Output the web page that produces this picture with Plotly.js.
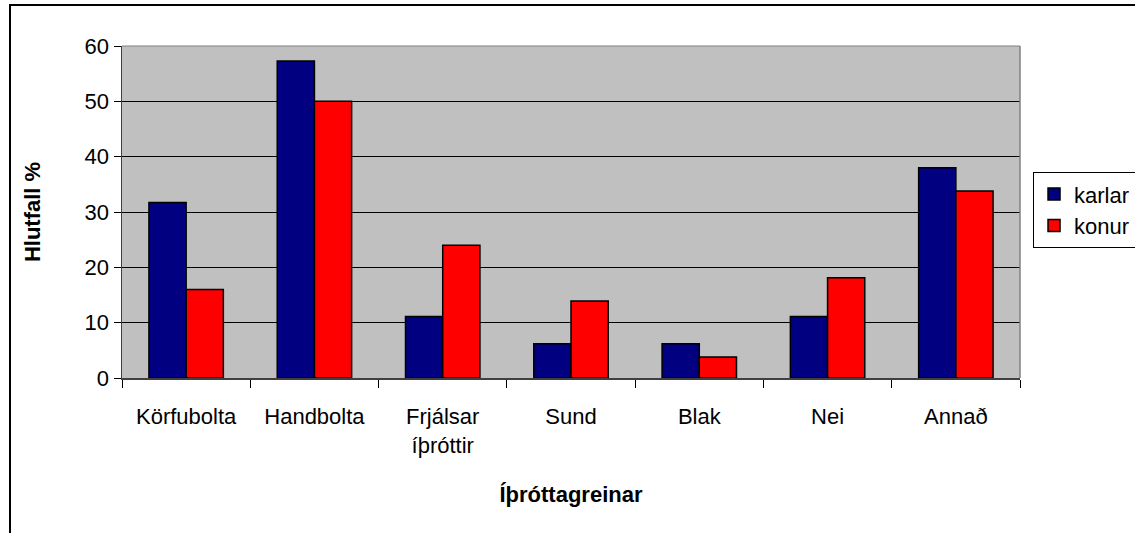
<!DOCTYPE html>
<html>
<head>
<meta charset="utf-8">
<script src="https://cdn.plot.ly/plotly-3.0.1.min.js"></script>
<style>html,body{margin:0;padding:0;background:#fff;}#chart{width:1135px;height:533px;}</style>
</head>
<body>
<div id="chart"></div>
<script>
const categories = ["Körfubolta", "Handbolta", "Frjálsar<br>íþróttir", "Sund", "Blak", "Nei", "Annað"];
const karlar = [31.7, 57.3, 11.1, 6.2, 6.2, 11.1, 38.0];
const konur = [16.0, 50.0, 24.0, 13.9, 3.8, 18.1, 33.8];
const yTicks = [0, 10, 20, 30, 40, 50, 60];

const font = "Liberation Sans, Arial, sans-serif";
const fs = 22;
const traces = [
  {type: "bar", name: "karlar", x: categories, y: karlar,
   marker: {color: "#000080", line: {color: "#000000", width: 1.5}}},
  {type: "bar", name: "konur", x: categories, y: konur,
   marker: {color: "#ff0000", line: {color: "#000000", width: 1.5}}}
];
const layout = {
  width: 1135, height: 533,
  margin: {l: 122, r: 115, t: 46, b: 155, autoexpand: false},
  paper_bgcolor: "#ffffff",
  plot_bgcolor: "#c0c0c0",
  barmode: "group",
  bargap: 0.42,
  bargroupgap: 0,
  font: {family: font, size: fs, color: "#000"},
  showlegend: true,
  legend: {x: 1.0145, y: 0.62, xanchor: "left", yanchor: "top",
    bordercolor: "#000", borderwidth: 1, bgcolor: "#fff",
    font: {family: font, size: fs, color: "#000"}, itemwidth: 30, tracegroupgap: 0},
  xaxis: {
    type: "category",
    tickson: "boundaries", ticks: "outside", ticklen: 8, tickcolor: "#000",
    showline: true, linecolor: "#404040", linewidth: 1.5, mirror: false,
    showgrid: false, ticklabelstandoff: 18,
    tickfont: {family: font, size: fs, color: "#000"},
    title: {text: "<b>Íþróttagreinar</b>", font: {family: font, size: fs, color: "#000"}, standoff: 30}
  },
  yaxis: {
    range: [0, 60], tickvals: yTicks, ticktext: yTicks.map(String),
    ticks: "outside", ticklen: 7, tickcolor: "#000",
    showline: true, linecolor: "#404040", linewidth: 1.5,
    showgrid: true, gridcolor: "#000", gridwidth: 1, zeroline: false,
    tickfont: {family: font, size: fs, color: "#000"},
    title: {text: "<b>Hlutfall %</b>", font: {family: font, size: fs, color: "#000"}, standoff: 38}
  },
  shapes: [
    {type: "line", xref: "paper", yref: "paper", x0: 1, x1: 1, y0: 0, y1: 1, line: {color: "#808080", width: 1.5}},
    {type: "line", xref: "paper", yref: "paper", x0: 0, x1: 1, y0: 1, y1: 1, line: {color: "#808080", width: 1}},
    {type: "rect", xref: "paper", yref: "paper", x0: (10 - 122) / 898, x1: (1180 - 122) / 898,
     y0: (378 - 560) / 332, y1: (378 - 5) / 332, line: {color: "#000", width: 2}, layer: "above"}
  ]
};
Plotly.newPlot("chart", traces, layout, {displayModeBar: false, staticPlot: true});
</script>
</body>
</html>
